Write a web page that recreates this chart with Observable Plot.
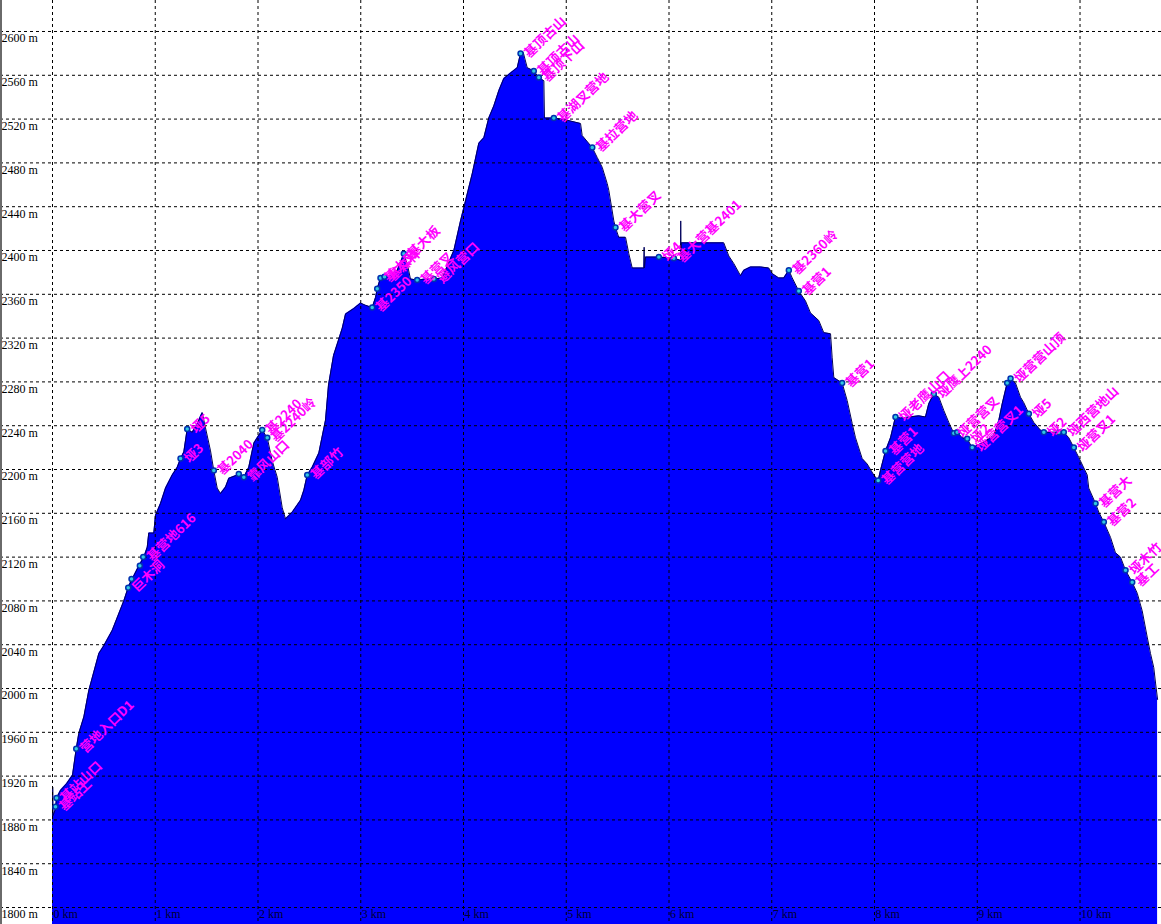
<!DOCTYPE html>
<html>
<head>
<meta charset="utf-8">
<script src="https://cdn.jsdelivr.net/npm/d3@7"></script>
<script src="https://cdn.jsdelivr.net/npm/@observablehq/plot@0.6"></script>
<style>
  html, body { margin: 0; padding: 0; background: #ffffff; }
  #chart { position: relative; width: 1161px; }
  #chart svg { display: block; }
  #chart::before { content: ""; position: absolute; left: 0; top: 0; bottom: 0; width: 2px; background: #6a6a6a; }
</style>
</head>
<body>
<div id="chart"></div>
<script>
// Elevation profile: distance (km) and elevation (m)
const profileKm = [
  0, 0.002, 0.006, 0.029, 0.039, 0.078, 0.136, 0.195, 0.231, 0.256, 0.305, 0.353, 0.451, 0.499, 0.581,
  0.694, 0.743, 0.840, 0.889, 0.922, 0.937, 0.986, 1.002, 1.051, 1.100, 1.165, 1.214, 1.246, 1.278,
  1.311, 1.360, 1.408, 1.457, 1.489, 1.538, 1.570, 1.603, 1.635, 1.684, 1.716, 1.798, 1.813, 1.862,
  1.910, 1.959, 1.992, 2.041, 2.090, 2.138, 2.187, 2.236, 2.268, 2.333, 2.414, 2.446, 2.479, 2.527,
  2.592, 2.657, 2.686, 2.735, 2.783, 2.820, 2.852, 2.932, 2.998, 3.046, 3.111, 3.144, 3.160, 3.192,
  3.273, 3.355, 3.419, 3.452, 3.484, 3.549, 3.630, 3.711, 3.793, 3.906, 3.971, 4.003, 4.085, 4.149,
  4.198, 4.246, 4.295, 4.344, 4.392, 4.457, 4.523, 4.555, 4.581, 4.620, 4.684, 4.733, 4.782, 4.788,
  4.879, 5.009, 5.139, 5.155, 5.253, 5.301, 5.350, 5.399, 5.414, 5.463, 5.479, 5.511, 5.577, 5.609,
  5.642, 5.755, 5.758, 5.761, 5.771, 5.901, 6.047, 6.112, 6.114, 6.117, 6.119, 6.533, 6.582, 6.631,
  6.696, 6.728, 6.793, 6.891, 6.971, 7.004, 7.068, 7.117, 7.166, 7.199, 7.263, 7.328, 7.377, 7.458,
  7.506, 7.572, 7.588, 7.604, 7.685, 7.734, 7.783, 7.815, 7.880, 7.929, 7.993, 8.036, 8.058, 8.107,
  8.156, 8.204, 8.253, 8.431, 8.496, 8.528, 8.577, 8.626, 8.674, 8.723, 8.772, 8.805, 8.854, 8.902,
  8.951, 9.000, 9.080, 9.161, 9.210, 9.243, 9.291, 9.324, 9.372, 9.421, 9.453, 9.502, 9.550, 9.615,
  9.648, 9.794, 9.842, 9.891, 9.940, 9.988, 10.070, 10.085, 10.151, 10.183, 10.232, 10.297, 10.345,
  10.394, 10.443, 10.508, 10.557, 10.605, 10.654, 10.686, 10.718, 10.735, 10.755
];
const profileElev = [
  1881, 1910, 1884, 1890, 1900, 1907, 1913, 1921, 1945, 1959, 1974, 1998, 2032, 2039, 2053,
  2080, 2094, 2112, 2120, 2129, 2142, 2142, 2158, 2169, 2183, 2195, 2202, 2210, 2216,
  2237, 2234, 2242, 2252, 2238, 2217, 2199, 2183, 2178, 2184, 2192, 2195, 2196, 2193,
  2202, 2224, 2229, 2236, 2229, 2208, 2193, 2165, 2155, 2161, 2172, 2181, 2195, 2202,
  2215, 2245, 2277, 2304, 2318, 2329, 2342, 2347, 2352, 2350, 2348, 2357, 2365, 2375,
  2376, 2382, 2397, 2388, 2374, 2373, 2374, 2374, 2375, 2400, 2427, 2439, 2470, 2498,
  2503, 2521, 2532, 2546, 2557, 2562, 2567, 2580, 2581, 2567, 2564, 2558, 2555, 2521,
  2521, 2519, 2516, 2505, 2494, 2485, 2476, 2461, 2455, 2427, 2421, 2412, 2412, 2397,
  2384, 2384, 2403, 2384, 2394, 2394, 2393, 2391, 2427, 2391, 2407, 2407, 2395, 2388,
  2377, 2382, 2385, 2385, 2384, 2379, 2375, 2375, 2382, 2375, 2363, 2354, 2343, 2336,
  2325, 2324, 2302, 2284, 2279, 2263, 2242, 2229, 2210, 2205, 2195, 2190, 2199, 2217,
  2229, 2248, 2247, 2249, 2248, 2260, 2269, 2266, 2254, 2243, 2233, 2234, 2229, 2228,
  2220, 2222, 2226, 2231, 2245, 2260, 2279, 2283, 2279, 2266, 2261, 2251, 2243, 2236,
  2234, 2234, 2234, 2229, 2220, 2211, 2195, 2183, 2169, 2161, 2152, 2138, 2124,
  2120, 2108, 2097, 2087, 2071, 2047, 2032, 2019, 2005, 1990
];

// Waypoints along the route
const wpKm = [
  0.029, 0.039, 0.231, 0.737, 0.769, 0.850, 0.883, 1.246, 1.311, 1.570, 1.813, 1.862, 2.041, 2.090,
  2.479, 3.111, 3.160, 3.192, 3.231, 3.419, 3.549, 3.711, 4.555, 4.684, 4.733, 4.879, 5.253, 5.479,
  5.901, 6.047, 7.166, 7.263, 7.685, 8.036, 8.107, 8.204, 8.577, 8.772, 8.805, 8.902, 8.951, 9.291,
  9.324, 9.502, 9.648, 9.794, 9.842, 9.940, 10.151, 10.232, 10.443, 10.508
];
const wpElev = [
  1892, 1900, 1945, 2092, 2100, 2112, 2120, 2210, 2237, 2199, 2196, 2193, 2236, 2229,
  2195, 2348, 2365, 2375, 2376, 2397, 2373, 2374, 2580, 2564, 2558, 2521, 2494, 2421,
  2394, 2393, 2382, 2363, 2279, 2190, 2217, 2248, 2269, 2233, 2234, 2228, 2220, 2279,
  2283, 2251, 2234, 2234, 2234, 2220, 2169, 2152, 2108, 2097
];
const wpName = [
  "基站上", "基站山口", "营地入口D1", "巨木洞", "", "", "基营地616", "垭3", "垭5", "基2040", "", "靠风山口", "基2240", "基2240岭",
  "基部竹", "基2350", "", "基大叉", "基森林", "基大板", "基营叉", "避风营口", "基顶古山", "基顶古山", "基顶下山", "基湖叉营地", "基拉营地", "基大营叉",
  "垭4", "基大营基2401", "基2360岭", "基营1", "基营1", "基营营地", "基营1", "垭老鹰山口", "垭鹰上2240", "垭营营叉", "", "垭2", "垭营营叉1", "",
  "垭营营山顶", "垭5", "垭2", "", "垭西营地山", "垭营叉1", "基营大", "基营2", "垭木竹", "基工"
];

// Axis ticks
const yTicks = [1800, 1840, 1880, 1920, 1960, 2000, 2040, 2080, 2120, 2160, 2200, 2240, 2280, 2320, 2360, 2400, 2440, 2480, 2520, 2560, 2600];
const xTicks = [0, 1, 2, 3, 4, 5, 6, 7, 8, 9, 10];
const yUnit = " m";
const xUnit = " km";

const profile = profileKm.map((km, i) => ({km, elev: profileElev[i]}));
const waypoints = wpKm.map((km, i) => ({km, elev: wpElev[i], name: wpName[i]}));

const yBase = 1784.5;

const chart = Plot.plot({
  width: 1161,
  height: 924,
  margin: 0,
  style: {background: "#ffffff"},
  x: {domain: [-0.5061, 10.793], axis: null},
  y: {domain: [yBase, 2628.3], axis: null},
  marks: [
    Plot.areaY(profile, {x: "km", y1: yBase, y2: "elev", fill: "#0000ff"}),
    Plot.lineY(profile, {x: "km", y: "elev", stroke: "#00005a", strokeWidth: 1}),
    Plot.ruleY(yTicks, {stroke: "#000000", strokeWidth: 1, strokeDasharray: "3,3"}),
    Plot.ruleX(xTicks, {stroke: "#000000", strokeWidth: 1, strokeDasharray: "3,3"}),
    Plot.text(yTicks, {
      y: d => d, frameAnchor: "left", text: d => d + yUnit,
      textAnchor: "start", dx: 1, dy: 7, fill: "#000000",
      fontFamily: "Liberation Serif", fontSize: 12
    }),
    Plot.text(xTicks, {
      x: d => d, frameAnchor: "bottom", text: d => d + xUnit,
      textAnchor: "start", dx: 1, dy: -7, fill: "#000033",
      fontFamily: "Liberation Serif", fontSize: 12
    }),
    Plot.dot(waypoints, {x: "km", y: "elev", r: 2.5, fill: "#30c8e0", stroke: "#0030b0", strokeWidth: 1.5}),
    Plot.text(waypoints, {
      x: "km", y: "elev", text: "name", rotate: -44, textAnchor: "start",
      dx: 6, dy: 2, fill: "#ff00ff",
      fontFamily: "Noto Sans CJK SC", fontSize: 13, fontWeight: "bold"
    })
  ]
});

document.getElementById("chart").appendChild(chart);
</script>
</body>
</html>
